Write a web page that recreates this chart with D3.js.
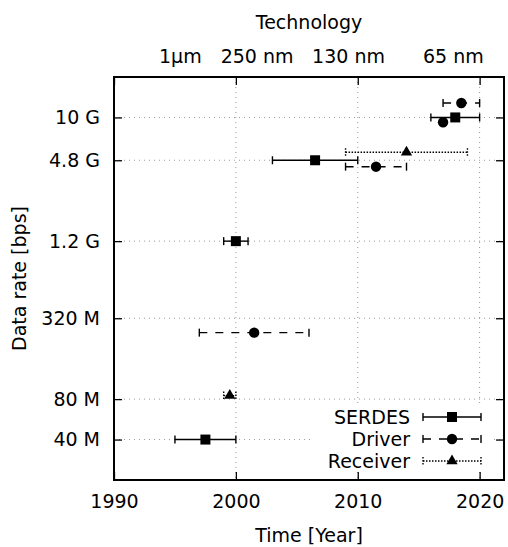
<!DOCTYPE html>
<html>
<head>
<meta charset="UTF-8">
<script src="https://d3js.org/d3.v7.min.js"></script>
<style>
  body { margin: 0; background: #fff; }
  svg text { font-family: "DejaVu Sans", sans-serif; fill: #000; }
</style>
</head>
<body>
<div id="chart"></div>
<script>
// SERDES
const serdesYear = [1997.5, 2000, 2006.5, 2018];
const serdesLo   = [1995, 1999, 2003, 2016];
const serdesHi   = [2000, 2001, 2010, 2020];
const serdesRate = [40e6, 1.2e9, 4.8e9, 10e9];

// Driver (one point without range)
const driverYear = [2001.5, 2011.5, 2017, 2018.5];
const driverLo   = [1997, 2009, null, 2017];
const driverHi   = [2006, 2014, null, 2020];
const driverRate = [250e6, 4.3e9, 9.2e9, 12.8e9];

// Receiver
const receiverYear = [1999.5, 2014];
const receiverLo   = [1999, 2009];
const receiverHi   = [2000, 2019];
const receiverRate = [85e6, 5.5e9];

const yTickValues = [40e6, 80e6, 320e6, 1.2e9, 4.8e9, 10e9];
const yTickLabels = ["40 M", "80 M", "320 M", "1.2 G", "4.8 G", "10 G"];
const xTickValues = [1990, 2000, 2010, 2020];
const techYears  = [1995.4, 2001.7, 2009.2, 2017.8];
const techLabels = ["1µm", "250 nm", "130 nm", "65 nm"];

const width = 508, height = 547;
const pL = 114, pR = 504, pT = 77, pB = 480;
const tick = 8;
const fs = 19;

const x = d3.scaleLinear().domain([1990, 2022]).range([pL, pR]);
const y = d3.scaleLog().domain([20e6, 20e9]).range([pB, pT]);

const svg = d3.select("#chart").append("svg")
    .attr("width", width).attr("height", height);

// grid
const grid = svg.append("g")
    .attr("stroke", "#999").attr("stroke-width", 1).attr("stroke-dasharray", "1,4");
grid.selectAll(".gx").data(xTickValues.slice(1)).join("line")
    .attr("x1", d => x(d)).attr("x2", d => x(d))
    .attr("y1", pT).attr("y2", pB);
grid.selectAll(".gy").data(yTickValues).join("line")
    .attr("x1", pL).attr("x2", pR)
    .attr("y1", d => y(d)).attr("y2", d => y(d));

// opaque legend box
svg.append("rect").attr("x", 310).attr("y", 405).attr("width", 182).attr("height", 67).attr("fill", "#fff");

// axes (ticks inward)
svg.append("g").attr("transform", `translate(0,${pB})`)
    .call(d3.axisBottom(x).tickValues(xTickValues).tickFormat(d3.format("d")).tickSizeInner(-tick).tickSizeOuter(0).tickPadding(15))
    .call(g => g.select(".domain").remove())
    .call(g => g.selectAll("text").attr("font-size", fs));
svg.append("g").attr("transform", `translate(0,${pT})`)
    .call(d3.axisTop(x).tickValues(xTickValues).tickFormat("").tickSizeInner(-tick).tickSizeOuter(0))
    .call(g => g.select(".domain").remove());
svg.append("g").attr("transform", `translate(${pL},0)`)
    .call(d3.axisLeft(y).tickValues(yTickValues).tickFormat((d, i) => yTickLabels[i]).tickSizeInner(-tick).tickSizeOuter(0).tickPadding(14))
    .call(g => g.select(".domain").remove())
    .call(g => g.selectAll("text").attr("font-size", fs));
svg.append("g").attr("transform", `translate(${pR},0)`)
    .call(d3.axisRight(y).tickValues(yTickValues).tickFormat("").tickSizeInner(-tick).tickSizeOuter(0))
    .call(g => g.select(".domain").remove());
svg.selectAll(".tick line").attr("stroke", "#000").attr("stroke-width", 1.3);

// technology axis labels (no marks)
svg.append("g").attr("transform", `translate(0,${pT})`)
    .call(d3.axisTop(x).tickValues(techYears).tickFormat((d, i) => techLabels[i]).tickSize(0).tickPadding(14))
    .call(g => g.select(".domain").remove())
    .call(g => g.selectAll("text").attr("font-size", fs));

// frame
svg.append("rect").attr("x", pL).attr("y", pT).attr("width", pR - pL).attr("height", pB - pT)
    .attr("fill", "none").attr("stroke", "#000").attr("stroke-width", 2);

// titles
svg.append("text").attr("x", (pL + pR) / 2).attr("y", 29).attr("text-anchor", "middle")
    .attr("font-size", fs).text("Technology");
svg.append("text").attr("x", (pL + pR) / 2).attr("y", 542).attr("text-anchor", "middle")
    .attr("font-size", fs).text("Time [Year]");
svg.append("text").attr("transform", `translate(26,${(pT + pB) / 2}) rotate(-90)`)
    .attr("text-anchor", "middle").attr("font-size", fs).text("Data rate [bps]");

const series = [
  { name: "SERDES", year: serdesYear, lo: serdesLo, hi: serdesHi, rate: serdesRate, dash: null, width: 1.4, symbol: d3.symbolSquare, size: 100 },
  { name: "Driver", year: driverYear, lo: driverLo, hi: driverHi, rate: driverRate, dash: "8,8", width: 1.4, symbol: d3.symbolCircle, size: 85 },
  { name: "Receiver", year: receiverYear, lo: receiverLo, hi: receiverHi, rate: receiverRate, dash: "1.5,1.5", width: 1.4, symbol: d3.symbolTriangle, size: 55 }
];
const cap = 4;

function errbar(g, x0, x1, cy, s) {
  g.append("line").attr("x1", x0).attr("x2", x1).attr("y1", cy).attr("y2", cy)
      .attr("stroke", "#000").attr("stroke-width", s.width).attr("stroke-dasharray", s.dash);
  [x0, x1].forEach(cx => g.append("line").attr("x1", cx).attr("x2", cx).attr("y1", cy - cap).attr("y2", cy + cap)
      .attr("stroke", "#000").attr("stroke-width", s.width)
      .attr("stroke-dasharray", s.name === "Receiver" ? "1.5,1.5" : null));
}

series.forEach(s => {
  const g = svg.append("g");
  s.year.forEach((yr, i) => {
    const cy = y(s.rate[i]);
    if (s.lo[i] != null) errbar(g, x(s.lo[i]), x(s.hi[i]), cy, s);
    g.append("path").attr("d", d3.symbol(s.symbol, s.size)())
        .attr("transform", `translate(${x(yr)},${cy})`).attr("fill", "#000");
  });
});

// legend
const legendRows = [417, 439, 461];
series.forEach((s, i) => {
  const g = svg.append("g");
  const cy = legendRows[i];
  g.append("text").attr("x", 410).attr("y", cy).attr("dy", "0.35em").attr("text-anchor", "end")
      .attr("font-size", fs).text(s.name);
  errbar(g, 423, 481, cy, s);
  g.append("path").attr("d", d3.symbol(s.symbol, s.size)())
      .attr("transform", `translate(452,${cy})`).attr("fill", "#000");
});
</script>
</body>
</html>
